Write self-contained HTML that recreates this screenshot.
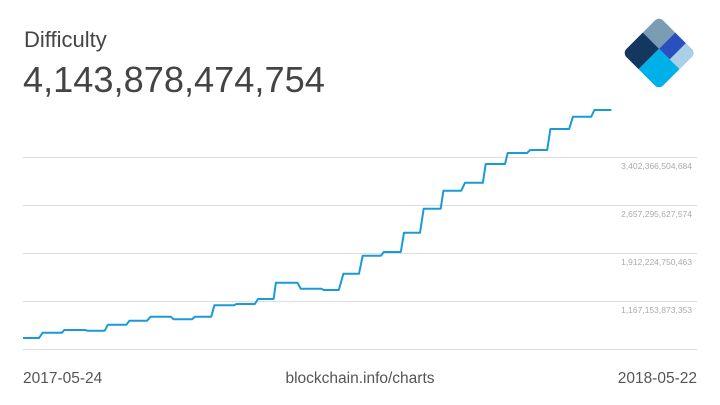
<!DOCTYPE html>
<html><head><meta charset="utf-8"><style>
body{margin:0;background:#fff;width:720px;height:405px;overflow:hidden;font-family:"Liberation Sans",sans-serif;}
</style></head><body>
<svg width="720" height="405" xmlns="http://www.w3.org/2000/svg" style="position:absolute;left:0;top:0">
<text x="24" y="47" font-size="22" fill="#444" font-family="Liberation Sans, sans-serif">Difficulty</text>
<text x="23" y="92" font-size="36.2" fill="#444" font-family="Liberation Sans, sans-serif">4,143,878,474,754</text>
<g stroke="#dcdcdc" stroke-width="1">
<line x1="23" y1="157.5" x2="697" y2="157.5"/>
<line x1="23" y1="205.5" x2="697" y2="205.5"/>
<line x1="23" y1="253.5" x2="697" y2="253.5"/>
<line x1="23" y1="301.5" x2="697" y2="301.5"/>
<line x1="23" y1="349.5" x2="697" y2="349.5"/>
</g>
<g font-size="8.5" fill="#aaa" text-anchor="end" font-family="Liberation Sans, sans-serif">
<text x="692" y="169">3,402,366,504,684</text>
<text x="692" y="217">2,657,295,627,574</text>
<text x="692" y="265">1,912,224,750,463</text>
<text x="692" y="313">1,167,153,873,353</text>
</g>
<polyline fill="none" stroke="#1a9bd7" stroke-width="2" stroke-linejoin="round" points="23,338 39,338 42.7,332.7 62,332.7 64.3,330 85,330 87.3,330.7 104.7,330.7 107.9,324.7 126.3,324.7 129.5,320.7 147,320.7 150.6,316.7 170.8,316.7 173.6,319.3 191.9,319.3 195.1,316.7 211.2,316.7 214.4,305.3 234.1,305.3 236.4,304 254.8,304 258,299 273.6,299 275.9,282.7 297.5,282.7 300.7,288.7 321.4,288.7 323.6,290 338.8,290 343.4,273.7 359,273.7 362.7,255.7 381,255.7 383.8,252 400.8,252 404,232.7 420,232.7 423.7,208.7 440.7,208.7 443.4,190.7 461.3,190.7 465,182.7 482.9,182.7 485.7,164 505,164 507.7,153 527,153 530.2,150 547.2,150 550.4,129 569.2,129 572.9,116.7 591.2,116.7 594.4,110 611.4,110"/>
<g font-size="15.5" fill="#555" font-family="Liberation Sans, sans-serif">
<text x="23" y="383">2017-05-24</text>
<text x="360" y="383" text-anchor="middle">blockchain.info/charts</text>
<text x="697" y="383" text-anchor="end">2018-05-22</text>
</g>
<defs><clipPath id="c"><rect x="-26" y="-26" width="52" height="52" rx="6"/></clipPath></defs>
<g transform="translate(659,53) rotate(45)" clip-path="url(#c)">
<rect x="-26" y="-26" width="23" height="23" fill="#7a9db3"/>
<rect x="-26" y="-3" width="23" height="29" fill="#13375e"/>
<rect x="-3" y="-26" width="29" height="23" fill="#2a4fbf"/>
<rect x="12" y="-26" width="14" height="23" fill="#a9d0e6"/>
<rect x="-3" y="-3" width="29" height="29" fill="#00b0e8"/>
</g>
</svg>
</body></html>
